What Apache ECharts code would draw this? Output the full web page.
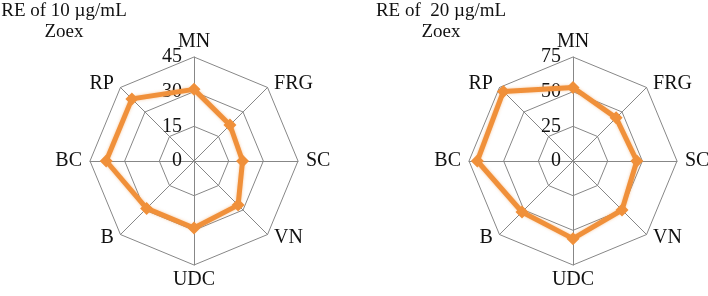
<!DOCTYPE html>
<html>
<head>
<meta charset="utf-8">
<script src="https://cdn.jsdelivr.net/npm/echarts@6/dist/echarts.min.js"></script>
<style>
    html, body { margin: 0; padding: 0; background: #fff; }
    #chart { width: 708px; height: 296px; }
</style>
</head>
<body>
<div id="chart"></div>
<script>
// axes, clockwise from the top
var axisNames = ['MN', 'FRG', 'SC', 'VN', 'UDC', 'B', 'BC', 'RP'];

// 10 µg/mL panel
var leftTitle = 'RE of 10 \u00b5g/mL\nZoex';
var leftMax = 45;
var leftValues = [31, 22, 21, 27, 29, 29, 38, 38];

// 20 µg/mL panel
var rightTitle = 'RE of  20 \u00b5g/mL\nZoex';
var rightMax = 75;
var rightValues = [53, 44, 46, 50, 56, 52, 69, 71];

var serif = '"Liberation Serif", "DejaVu Serif", serif';
var gridColor = '#878787';
var lineColor = '#f0903a';

var myChart = echarts.init(document.getElementById('chart'));

// echarts lays indicators out counter-clockwise, so keep the first and flip the rest
function clockwise(arr) {
    return [arr[0]].concat(arr.slice(1).reverse());
}

function makeIndicator(max) {
    return clockwise(axisNames).map(function (name, i) {
        var item = { name: name, min: 0, max: max, nameMoveOverlap: false };
        // only the MN axis carries tick labels
        if (i === 0) {
            item.axisLabel = { show: true };
        }
        return item;
    });
}

function makeRadar(cx, max) {
    return {
        center: [cx, 161],
        radius: 104,
        startAngle: 90,
        splitNumber: 3,
        shape: 'polygon',
        indicator: makeIndicator(max),
        axisName: {
            color: '#111',
            fontFamily: serif,
            fontSize: 20,
            padding: [0, 3, 0, 3]
        },
        nameGap: 5,
        axisLine: { lineStyle: { color: gridColor, width: 1 } },
        splitLine: { lineStyle: { color: gridColor, width: 1 } },
        splitArea: { show: false },
        axisTick: { show: false },
        axisLabel: {
            show: false,
            color: '#111',
            fontFamily: serif,
            fontSize: 20,
            margin: 12
        }
    };
}

function makeSeries(radarIndex, values) {
    return {
        type: 'radar',
        radarIndex: radarIndex,
        symbol: 'diamond',
        symbolSize: 13,
        lineStyle: {
            color: lineColor,
            width: 5,
            shadowColor: 'rgba(240,144,58,0.5)',
            shadowBlur: 3
        },
        itemStyle: { color: lineColor },
        data: [{ value: clockwise(values) }]
    };
}

var option = {
    animation: false,
    graphic: [{
        type: 'text',
        x: 64,
        y: 1,
        style: {
            text: leftTitle,
            textAlign: 'center',
            font: '19px ' + serif,
            lineHeight: 21,
            fill: '#111'
        }
    }, {
        type: 'text',
        x: 441,
        y: 1,
        style: {
            text: rightTitle,
            textAlign: 'center',
            font: '19px ' + serif,
            lineHeight: 21,
            fill: '#111'
        }
    }],
    radar: [makeRadar(194, leftMax), makeRadar(573, rightMax)],
    series: [makeSeries(0, leftValues), makeSeries(1, rightValues)]
};

myChart.setOption(option);
</script>
</body>
</html>
